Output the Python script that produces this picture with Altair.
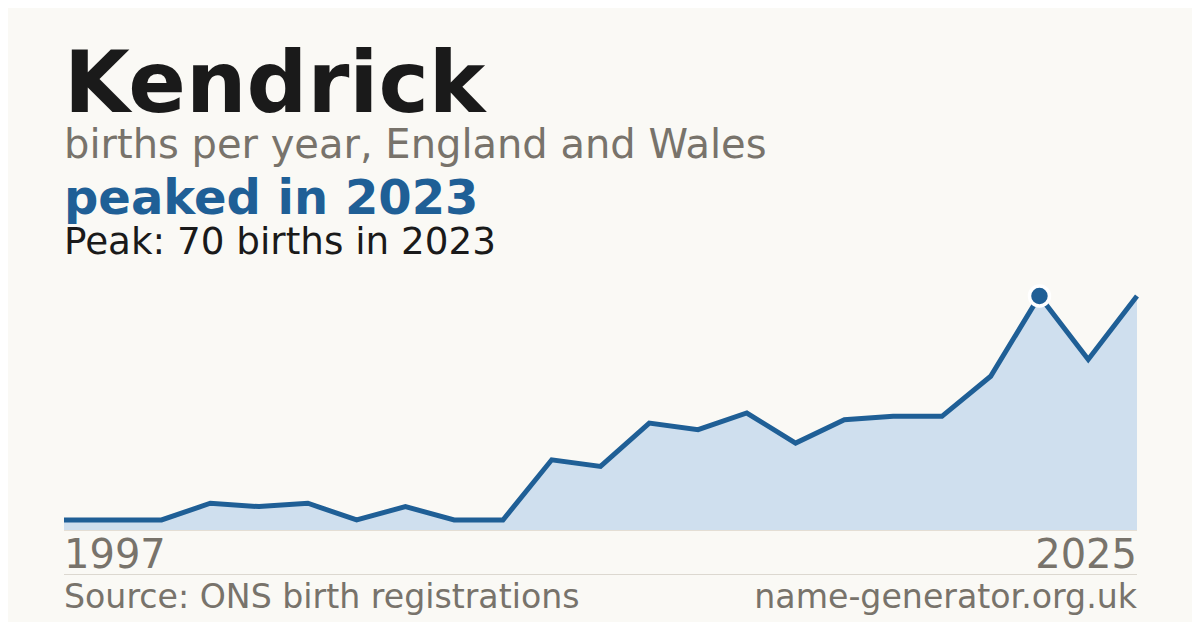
import altair as alt
import pandas as pd

# ---- data ----
name = "Kendrick"
subtitle = "births per year, England and Wales"
headline = "peaked in 2023"
peak_note = "Peak: 70 births in 2023"
source_note = "Source: ONS birth registrations"
site_note = "name-generator.org.uk"

years = [1997, 2001, 2005, 2006, 2007, 2008, 2009, 2010, 2011, 2012, 2013, 2014,
         2015, 2016, 2017, 2018, 2019, 2020, 2021, 2022, 2023, 2024, 2025]
births = [3, 3, 3, 8, 7, 8, 3, 7, 3, 3, 21, 19,
          32, 30, 35, 26, 33, 34, 34, 46, 70, 51, 70]
peak_year = 2023

# ---- style ----
BG = "#faf9f5"
BLUE = "#1f5f96"
FILL = "#cfdfee"
INK = "#1a1a1a"
GREY = "#78736b"
RULE = "#dcd8d0"
FONT = "DejaVu Sans"

W, H = 1073, 234

df = pd.DataFrame({"year": years, "births": births})

xs = alt.X("year:O", scale=alt.Scale(domain=years, type="point", padding=0), axis=None)
ys = alt.Y("births:Q", scale=alt.Scale(domain=[0, 70], nice=False, zero=True), axis=None)

base = alt.Chart(df)

area = base.mark_area(color=FILL, opacity=1).encode(x=xs, y=ys)
line = base.mark_line(color=BLUE, strokeWidth=5, strokeJoin="miter").encode(x=xs, y=ys)
baseline = base.mark_rule(color="#e4ded4", strokeWidth=1).encode(
    x=alt.value(0), x2=alt.value(W), y=alt.value(H + 0.5))
peak = base.transform_filter(alt.datum.year == peak_year).mark_point(
    filled=True, shape="circle", size=400, color=BLUE, stroke="white",
    strokeWidth=3.5, opacity=1, strokeOpacity=1, fillOpacity=1).encode(x=xs, y=ys)


def label(text, y, size, color, weight="normal", align="left", x=0):
    return alt.Chart(pd.DataFrame({"t": [text]})).mark_text(
        align=align, baseline="alphabetic", font=FONT, fontSize=size,
        fontWeight=weight, color=color).encode(
        x=alt.value(x), y=alt.value(y), text="t:N")


t_title = label(name, -184, 85, INK, "bold")
t_sub = label(subtitle, -138, 40, GREY)
t_head = label(headline, -82.5, 48, BLUE, "bold")
t_peak = label(peak_note, -42, 37.3, INK)

first_year = base.transform_filter(alt.datum.year == years[0]).mark_text(
    align="left", baseline="alphabetic", font=FONT, fontSize=40, color=GREY
).encode(x=xs, y=alt.value(272.3), text="year:O")
last_year = base.transform_filter(alt.datum.year == years[-1]).mark_text(
    align="right", baseline="alphabetic", font=FONT, fontSize=40, color=GREY
).encode(x=xs, y=alt.value(272.3), text="year:O")

sep = base.mark_rule(color=RULE, strokeWidth=1).encode(
    x=alt.value(0), x2=alt.value(W), y=alt.value(278.5))

t_src = label(source_note, 312, 33.2, GREY)
t_site = label(site_note, 312, 33.2, GREY, align="right", x=W)

chart = alt.layer(
    area, baseline, line, peak, t_title, t_sub, t_head, t_peak,
    first_year, last_year, sep, t_src, t_site
).properties(
    width=W, height=H, background=BG,
    padding={"left": 56, "top": 288, "right": 55, "bottom": 92},
    autosize=alt.AutoSizeParams(type="none"),
).configure_view(stroke=None)

chart.save("out.html", embed_options={"renderer": "svg", "actions": False})
